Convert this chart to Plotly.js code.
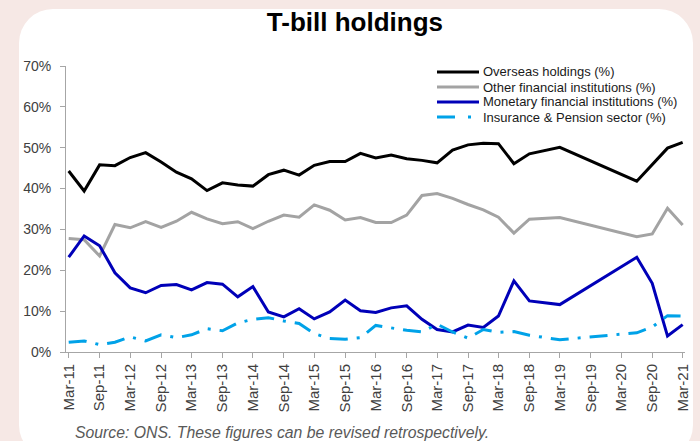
<!DOCTYPE html>
<html>
<head>
<meta charset="utf-8">
<script src="https://cdn.plot.ly/plotly-3.0.1.min.js"></script>
<style>
  html, body { margin:0; padding:0; width:700px; height:441px; overflow:hidden; background:#f6e8e5; }
  #card { position:absolute; left:19px; top:9px; width:674px; height:450px; background:#ffffff; border-radius:34px; }
  #chart { position:absolute; left:0; top:0; width:700px; height:441px; }
</style>
</head>
<body>
<div id="card"></div>
<div id="chart"></div>
<script>
// Quarterly dates (source data has gaps between Sep-18 and Jun-20)
const dates = [
  "2011-03-01","2011-06-01","2011-09-01","2011-12-01",
  "2012-03-01","2012-06-01","2012-09-01","2012-12-01",
  "2013-03-01","2013-06-01","2013-09-01","2013-12-01",
  "2014-03-01","2014-06-01","2014-09-01","2014-12-01",
  "2015-03-01","2015-06-01","2015-09-01","2015-12-01",
  "2016-03-01","2016-06-01","2016-09-01","2016-12-01",
  "2017-03-01","2017-06-01","2017-09-01","2017-12-01",
  "2018-03-01","2018-06-01","2018-09-01",
  "2019-03-01",
  "2020-06-01","2020-09-01","2020-12-01","2021-03-01"
];

const overseas = [44.3,39.4,45.8,45.6, 47.6,48.8,46.5,44.0, 42.4,39.5,41.4,40.9,
  40.6,43.4,44.5,43.3, 45.7,46.6,46.6,48.6, 47.5,48.2,47.3,46.9,
  46.3,49.4,50.7,51.1, 51.0,46.1,48.5, 50.1, 41.8,45.9,49.9,51.3];

const otherFinancial = [27.8,27.5,23.5,31.2, 30.4,31.9,30.5,32.0, 34.2,32.6,31.4,31.9,
  30.2,32.0,33.5,33.0, 36.0,34.7,32.3,32.9, 31.7,31.7,33.5,38.3,
  38.8,37.6,36.1,34.8, 33.0,29.1,32.5, 32.9, 28.2,28.9,35.2,31.1];

const monetary = [23.2,28.4,26.0,19.4, 15.7,14.5,16.3,16.5, 15.2,17.0,16.6,13.5,
  16.0,9.8,8.6,10.6, 8.1,9.8,12.7,10.1, 9.7,10.8,11.3,8.0,
  5.5,4.9,6.6,6.0, 8.8,17.4,12.5, 11.6, 23.2,16.8,3.9,6.7];

const insurance = [2.4,2.7,1.8,2.4, 3.7,2.7,4.2,3.5, 4.2,5.7,5.2,7.1,
  8.0,8.4,7.6,7.0, 4.5,3.3,3.1,3.5, 6.5,5.9,5.3,4.9,
  6.8,4.9,3.4,5.5, 4.8,5.0,4.1, 3.0, 4.7,6.1,8.9,8.8];

const seriesNames = [
  "Overseas holdings (%)",
  "Other financial institutions (%)",
  "Monetary financial institutions (%)",
  "Insurance & Pension sector (%)"
];

const yTickVals = [0,10,20,30,40,50,60,70];
const yTickText = ["0%","10%","20%","30%","40%","50%","60%","70%"];
const titleText = "T-bill holdings";
const sourceText = "Source: ONS. These figures can be revised retrospectively.";

const F = "Liberation Sans, Arial, sans-serif";
const colors = ["#000000", "#a3a3a3", "#0000b8", "#00a2e8"];
const dashes = ["solid", "solid", "solid", "18px,9px,3px,9px"];
const seriesData = [overseas, otherFinancial, monetary, insurance];

const traces = seriesData.map((vals, i) => ({
  x: dates, y: vals, name: seriesNames[i], mode: "lines",
  line: {color: colors[i], width: 3, dash: dashes[i]},
  showlegend: false
}));

// Compact legend drawn in paper coordinates (plot area: x 66..685, y 66..352)
const L = 66, W = 619, B = 352, H = 286;
const px = v => (v - L) / W;
const py = v => (B - v) / H;
const legendRows = [72, 87, 102, 117];
const shapes = [], annotations = [];
seriesNames.forEach((n, i) => {
  shapes.push({type: "line", xref: "paper", yref: "paper",
    x0: px(437), x1: px(479), y0: py(legendRows[i]), y1: py(legendRows[i]),
    line: {color: colors[i], width: 3, dash: i === 3 ? "18px,13px,3px,13px" : "solid"}});
  annotations.push({text: n, xref: "paper", yref: "paper",
    x: px(481), y: py(legendRows[i]), xanchor: "left", yanchor: "middle",
    showarrow: false, font: {family: F, size: 13, color: "#1a1a1a"}});
});
annotations.push({
  text: "<i>" + sourceText + "</i>",
  xref: "paper", yref: "paper", x: px(73), y: py(432),
  xanchor: "left", yanchor: "middle", showarrow: false,
  font: {family: F, size: 15.8, color: "#595959"}
});

const layout = {
  width: 700, height: 441,
  paper_bgcolor: "rgba(0,0,0,0)",
  plot_bgcolor: "rgba(0,0,0,0)",
  margin: {l: 66, r: 15, t: 66, b: 89},
  font: {family: F, color: "#404040"},
  title: {text: "<b>" + titleText + "</b>", x: 0.507, xanchor: "center",
          y: 0.95, yanchor: "middle", yref: "container",
          font: {family: F, size: 26, color: "#000000"}},
  showlegend: false,
  xaxis: {
    type: "date",
    range: ["2011-02-13", "2021-03-15"],
    tick0: "2011-03-01", dtick: "M6", tickformat: "%b-%y",
    tickangle: -90,
    tickfont: {family: F, size: 15, color: "#404040"},
    showgrid: false, zeroline: false,
    showline: true, linecolor: "#a6a6a6", linewidth: 1,
    ticks: "outside", ticklen: 5, tickcolor: "#a6a6a6"
  },
  yaxis: {
    range: [0, 70], tickmode: "array", tickvals: yTickVals, ticktext: yTickText,
    tickfont: {family: F, size: 14, color: "#404040"},
    ticklabelstandoff: 6,
    showgrid: false, zeroline: false,
    showline: true, linecolor: "#a6a6a6", linewidth: 1,
    ticks: "outside", ticklen: 5, tickcolor: "#a6a6a6"
  },
  shapes: shapes,
  annotations: annotations
};

Plotly.newPlot("chart", traces, layout, {displayModeBar: false, staticPlot: true});
</script>
</body>
</html>
